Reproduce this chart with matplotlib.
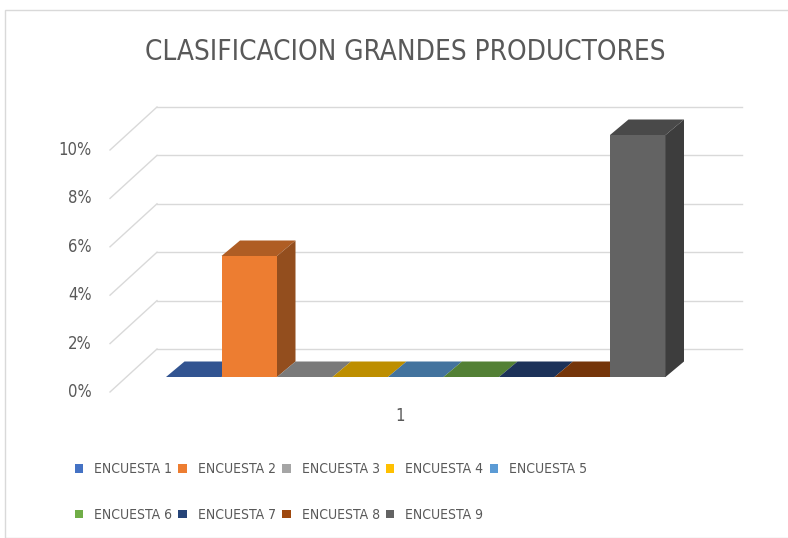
import numpy as np
import matplotlib
matplotlib.use("Agg")
import matplotlib.pyplot as plt
from matplotlib.patches import Polygon, Patch, Rectangle
from matplotlib.colors import to_rgb

# Data
series = ["ENCUESTA 1", "ENCUESTA 2", "ENCUESTA 3", "ENCUESTA 4", "ENCUESTA 5",
          "ENCUESTA 6", "ENCUESTA 7", "ENCUESTA 8", "ENCUESTA 9"]
values = [0, 5, 0, 0, 0, 0, 0, 0, 10]          # percent
colors = ["#4472C4", "#ED7D31", "#A5A5A5", "#FFC000", "#5B9BD5",
          "#70AD47", "#264478", "#9E480E", "#636363"]
yticks = [0, 2, 4, 6, 8, 10]
category = "1"
title = "CLASIFICACION GRANDES PRODUCTORES"

plt.rcParams['font.family'] = ['DejaVu Sans']
plt.rcParams['font.stretch'] = 'condensed'
txt = "#595959"
grid_c = "#D9D9D9"

# layout: pixel scale of one bar slot / one percent
W, H = 788, 538
X0, Y0 = 166, 377        # pixel of first bar's front-left-bottom corner
SX, SY = 55.5, 24.2      # pixels per bar slot, per percent

def dx(px):
    return px / SX

def dy(px):
    return px / SY

fig = plt.figure(figsize=(W / 100, H / 100), dpi=100)
ax = fig.add_axes([0, 0, 1, 1])
ax.set_xlim(-X0 / SX, (W - X0) / SX)
ax.set_ylim((Y0 - H) / SY, Y0 / SY)
ax.axis("off")

# chart area border
fig.patches.append(Rectangle((5 / W, 0), 1, 1 - 10 / H, transform=fig.transFigure,
                             fill=False, edgecolor=grid_c, lw=1))

# walls: back gridlines + side wall diagonals
n = len(values)
front_x, front_y = dx(110 - X0), dy(-15)
back_x, back_y = dx(157 - X0), dy(28)
back_right = dx(742 - X0)
for k in yticks:
    ax.plot([back_x, back_right], [k + back_y, k + back_y], color=grid_c, lw=1, zorder=1)
    ax.plot([front_x, back_x], [k + front_y, k + back_y], color=grid_c, lw=1, zorder=1)
    ax.text(dx(92 - X0), k + front_y, f"{k}%", ha="right", va="center",
            fontsize=12, color=txt)

# 3D columns
ddx, ddy = dx(18.5), dy(15.5)
xs = np.arange(n)

def shade(c, f):
    r, g, b = to_rgb(c)
    return (r * f, g * f, b * f)

bars = ax.bar(xs, values, width=1, align="edge", color=colors,
              edgecolor="none")
for i, (x, v, c) in enumerate(zip(xs, values, colors)):
    z = 3 + i
    bars[i].set_zorder(z + 0.2)
    top = Polygon([(x, v), (x + 1, v), (x + 1 + ddx, v + ddy), (x + ddx, v + ddy)],
                  closed=True, facecolor=shade(c, 0.74), edgecolor="none", zorder=z + 0.1)
    side = Polygon([(x + 1, 0), (x + 1 + ddx, ddy), (x + 1 + ddx, v + ddy), (x + 1, v)],
                   closed=True, facecolor=shade(c, 0.62), edgecolor="none", zorder=z + 0.3)
    ax.add_patch(top)
    ax.add_patch(side)

ax.text(dx(400 - X0), dy(-39), category, ha="center", va="center", fontsize=12, color=txt)

fig.text(405 / W, 1 - 52 / H, title, ha="center", va="center", fontsize=20, color=txt)

# legend, row-major order over 5 columns
handles = [Patch(facecolor=c) for c in colors]
order = [0, 5, 1, 6, 2, 7, 3, 8, 4]
leg = fig.legend([handles[i] for i in order], [series[i] for i in order],
                 ncol=5, loc="center", bbox_to_anchor=(331 / W, 1 - 492 / H),
                 frameon=False, fontsize=10, handlelength=0.6, handleheight=0.6,
                 handletextpad=0.8, columnspacing=0.45, labelspacing=2.3)
for t in leg.get_texts():
    t.set_color(txt)

fig.savefig("out.png", dpi=100)
